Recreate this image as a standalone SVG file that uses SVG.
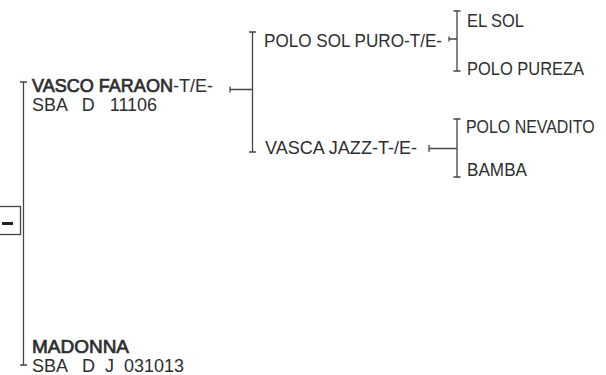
<svg xmlns="http://www.w3.org/2000/svg" width="606" height="375" viewBox="0 0 606 375">
<style>
text{font-family:"Liberation Sans","DejaVu Sans",sans-serif;font-size:18px;fill:#2e2e2e}
.b{stroke:#2e2e2e;stroke-width:0.7}
.ln{stroke:#444;stroke-width:1.3;fill:none}
</style>
<rect width="606" height="375" fill="#fff"/>
<g id="connectors">
<path class="ln" d="M23.5,82V365M20,82H27M20,365H27"/>
<path class="ln" d="M230,86.5V92.5M230,89.5H252.5M252.5,32V152M249,32H256M249,152H256"/>
<path class="ln" d="M449,36.5V41.5M449,39H457M457,11V71M453.5,11H460.5M453.5,71H460.5"/>
<path class="ln" d="M429,145V152M429,148.5H457M457,119V177M453.5,119H460.5M453.5,177H460.5"/>
</g>
<g id="collapse">
<rect x="-1" y="206.5" width="21.5" height="28" fill="#fff" stroke="#444" stroke-width="1.3"/>
<path d="M2,223.5H13" stroke="#222" stroke-width="3"/>
</g>
<g id="vasco-faraon">
<text x="32" y="92" textLength="181" lengthAdjust="spacingAndGlyphs"><tspan class="b">VASCO FARAON</tspan>-T/E-</text>
<text x="32" y="111" xml:space="preserve" textLength="125" lengthAdjust="spacingAndGlyphs">SBA   D   11106</text>
</g>
<g id="madonna">
<text x="32" y="353" class="b" textLength="97" lengthAdjust="spacingAndGlyphs">MADONNA</text>
<text x="32" y="372" xml:space="preserve">SBA   D  J  031013</text>
</g>
<g id="polo-sol-puro"><text x="264" y="47" textLength="178" lengthAdjust="spacingAndGlyphs">POLO SOL PURO-T/E-</text></g>
<g id="vasca-jazz"><text x="265" y="154" textLength="152" lengthAdjust="spacingAndGlyphs">VASCA JAZZ-T-/E-</text></g>
<g id="el-sol"><text x="467" y="27" textLength="57" lengthAdjust="spacingAndGlyphs">EL SOL</text></g>
<g id="polo-pureza"><text x="467" y="75" textLength="117" lengthAdjust="spacingAndGlyphs">POLO PUREZA</text></g>
<g id="polo-nevadito"><text transform="translate(466,133) scale(0.885,1)">POLO NEVADITO</text></g>
<g id="bamba"><text x="467" y="176" textLength="60" lengthAdjust="spacingAndGlyphs">BAMBA</text></g>
</svg>
